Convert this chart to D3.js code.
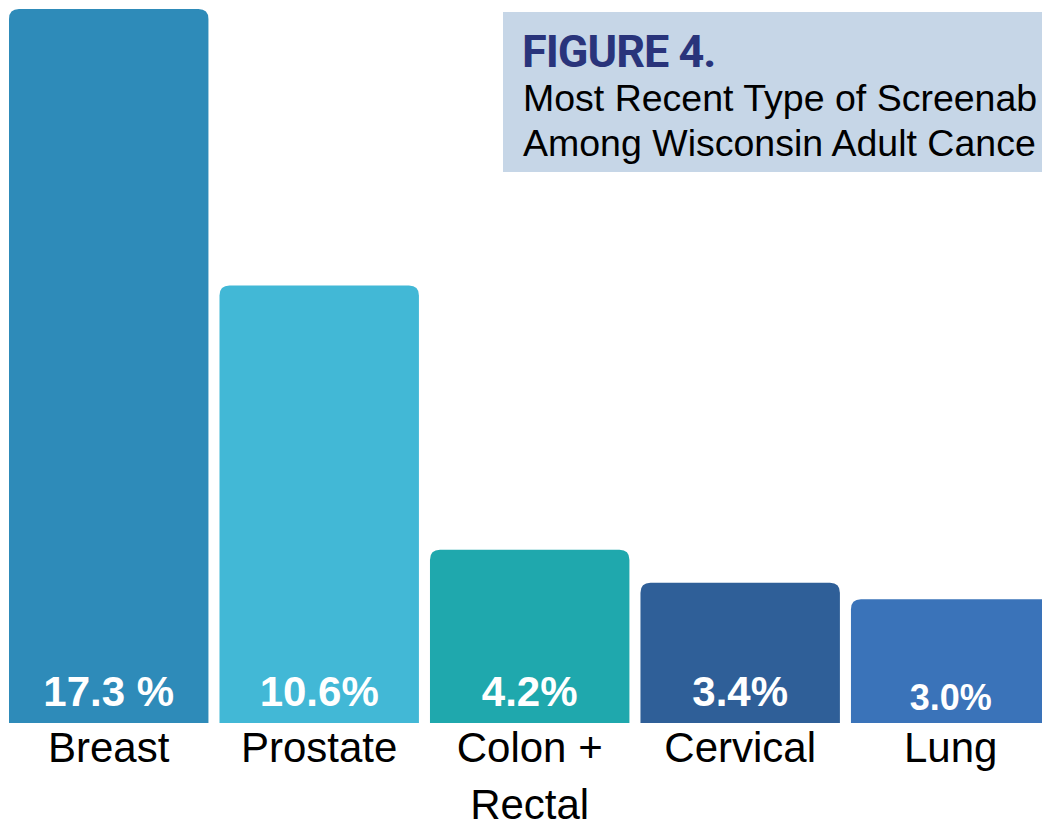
<!DOCTYPE html>
<head>
<meta charset="utf-8">
<title>Figure 4</title>
<style>
body { margin: 0; background: #fff; }
svg { display: block; }
</style>
<script src="https://cdn.jsdelivr.net/npm/d3@7"></script>
</head>
<body>
<div id="chart"></div>
<script>
// data
var categories = ["Breast", "Prostate", "Colon +\nRectal", "Cervical", "Lung"];
var values = [17.3, 10.6, 4.2, 3.4, 3.0];
var valueLabels = ["17.3 %", "10.6%", "4.2%", "3.4%", "3.0%"];
var barColors = ["#2e8bb9", "#42b8d6", "#1fa8ad", "#2f5f98", "#3a73b9"];
var titleLines = ["Most Recent Type of Screenab", "Among Wisconsin Adult Cance"];

var W = 1042, H = 822, base = 723, r = 10;
var font = "'Liberation Sans', Arial, sans-serif";

var svg = d3.select("#chart").append("svg")
  .attr("width", W).attr("height", H);

var x = d3.scaleBand()
  .domain(d3.range(categories.length))
  .range([9, 1050.4])
  .paddingInner(0.0525)
  .paddingOuter(0);

var y = d3.scaleLinear().domain([0, 17.3]).range([base, 9]);

// title box
svg.append("rect")
  .attr("x", 503).attr("y", 12)
  .attr("width", W - 503).attr("height", 160)
  .attr("fill", "#c6d6e7");

svg.append("text")
  .attr("x", 522).attr("y", 67)
  .attr("font-family", "Roboto, sans-serif")
  .attr("font-weight", 700)
  .attr("font-size", 45)
  .attr("letter-spacing", -1)
  .attr("fill", "#29347b")
  .text("FIGURE 4.");

svg.selectAll(".sub")
  .data(titleLines)
  .enter().append("text")
  .attr("class", "sub")
  .attr("x", 523)
  .attr("y", function(d, i) { return 111 + i * 45; })
  .attr("font-family", font)
  .attr("font-size", 37.5)
  .attr("fill", "#000")
  .text(function(d) { return d; });

// bars with rounded tops
function barPath(i) {
  var x0 = x(i), x1 = x(i) + x.bandwidth(), top = y(values[i]);
  return "M" + x0 + "," + base +
    "V" + (top + r) +
    "Q" + x0 + "," + top + " " + (x0 + r) + "," + top +
    "H" + (x1 - r) +
    "Q" + x1 + "," + top + " " + x1 + "," + (top + r) +
    "V" + base + "Z";
}

svg.selectAll(".bar")
  .data(values)
  .enter().append("path")
  .attr("class", "bar")
  .attr("d", function(d, i) { return barPath(i); })
  .attr("fill", function(d, i) { return barColors[i]; });

var last = values.length - 1;
svg.selectAll(".val")
  .data(valueLabels)
  .enter().append("text")
  .attr("class", "val")
  .attr("x", function(d, i) { return x(i) + x.bandwidth() / 2; })
  .attr("y", function(d, i) { return i === last ? 710 : 706; })
  .attr("text-anchor", "middle")
  .attr("font-family", font)
  .attr("font-weight", 700)
  .attr("font-size", function(d, i) { return i === last ? 36 : 42; })
  .attr("fill", "#fff")
  .text(function(d) { return d; });

var cat = svg.selectAll(".cat")
  .data(categories)
  .enter().append("text")
  .attr("class", "cat")
  .attr("text-anchor", "middle")
  .attr("font-family", font)
  .attr("font-size", 42)
  .attr("fill", "#000");

cat.each(function(d, i) {
  var t = d3.select(this);
  d.split("\n").forEach(function(line, k) {
    t.append("tspan")
      .attr("x", x(i) + x.bandwidth() / 2)
      .attr("y", 762 + k * 57)
      .text(line);
  });
});
</script>
</body>
